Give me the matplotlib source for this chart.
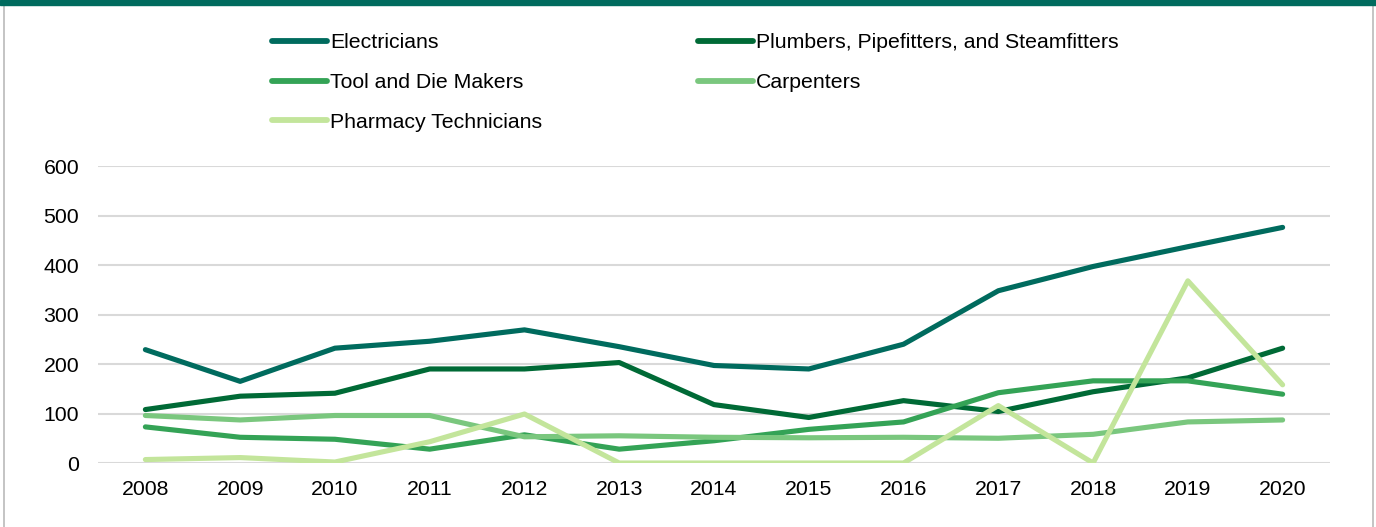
import matplotlib.pyplot as plt
from matplotlib.lines import Line2D
from matplotlib.patches import Rectangle

plt.rcParams['font.family'] = ['Liberation Sans', 'DejaVu Sans']

years = [2008, 2009, 2010, 2011, 2012, 2013, 2014, 2015, 2016, 2017, 2018, 2019, 2020]

electricians = [229, 165, 232, 246, 269, 235, 197, 190, 240, 348, 397, 437, 476]
plumbers = [108, 135, 141, 190, 190, 203, 118, 92, 126, 104, 144, 172, 232]
tool_die = [73, 52, 48, 28, 57, 28, 45, 68, 83, 142, 166, 166, 139]
carpenters = [96, 87, 96, 96, 53, 55, 52, 51, 52, 50, 58, 83, 87]
pharmacy = [7, 11, 2, 43, 99, 0, 0, 0, 0, 116, 0, 368, 158]

series = [
    ("Electricians", electricians, "#006B5E"),
    ("Plumbers, Pipefitters, and Steamfitters", plumbers, "#006A36"),
    ("Tool and Die Makers", tool_die, "#34A356"),
    ("Carpenters", carpenters, "#7AC77E"),
    ("Pharmacy Technicians", pharmacy, "#C3E59B"),
]

FS = 15.3

fig = plt.figure(figsize=(13.76, 5.27), dpi=100)
ax = fig.add_axes([98 / 1376, 0.1214, 1232 / 1376, 0.5636])

handles = {}
for name, vals, color in series:
    line, = ax.plot(years, vals, color=color, linewidth=3.7,
                    solid_capstyle='round', solid_joinstyle='round', label=name)
    handles[name] = line

ax.set_xlim(2007.5, 2020.5)
ax.set_ylim(0, 600)
ax.set_yticks(range(0, 601, 100))
ax.set_xticks(years)
ax.grid(axis='y', color='#D9D9D9', linewidth=1.5)
ax.set_axisbelow(True)
for s in ax.spines.values():
    s.set_visible(False)
ax.tick_params(axis='both', length=0, labelsize=FS, colors='#000000')
ax.tick_params(axis='x', pad=12)
ax.tick_params(axis='y', pad=13.5)

# legend laid out row-wise like the original (two columns)
order = ["Electricians", "Tool and Die Makers", "Pharmacy Technicians",
         "Plumbers, Pipefitters, and Steamfitters", "Carpenters"]
leg = fig.legend([handles[n] for n in order], order, ncol=2,
                 loc='upper left', bbox_to_anchor=(272 / 1376, 1 - 33.5 / 527),
                 frameon=False, fontsize=FS, handlelength=2.6,
                 handletextpad=0.15, columnspacing=7.3, labelspacing=0.97,
                 borderaxespad=0, borderpad=0)
for lh in leg.get_lines():
    lh.set_linewidth(4.2)
    lh.set_solid_capstyle('round')

# frame: teal top bar and light grey side borders
fig.patches.append(Rectangle((0, 1 - 5 / 527), 1, 5 / 527, transform=fig.transFigure,
                             color='#006B5E', zorder=5))
fig.add_artist(Line2D([3.5 / 1376, 3.5 / 1376], [0, 1 - 5 / 527],
                      transform=fig.transFigure, color='#BFBFBF', linewidth=1.3))
fig.add_artist(Line2D([1373 / 1376, 1373 / 1376], [0, 1 - 5 / 527],
                      transform=fig.transFigure, color='#BFBFBF', linewidth=1.3))

fig.savefig('out.png', dpi=100)
